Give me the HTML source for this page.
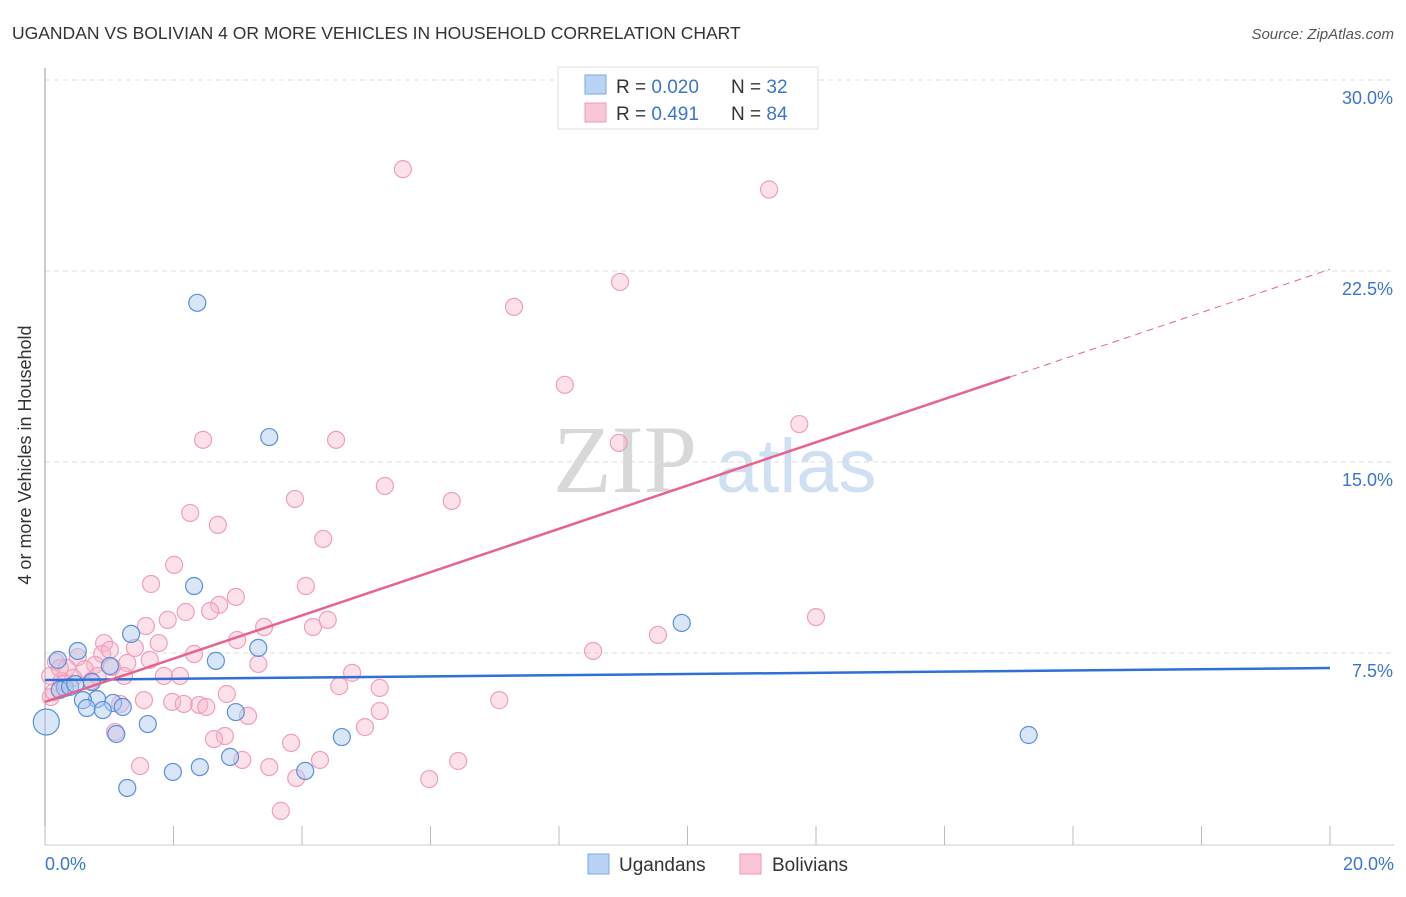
<!DOCTYPE html>
<html><head><meta charset="utf-8"><style>
body{margin:0;background:#fff;font-family:"Liberation Sans",sans-serif}
svg text{font-family:"Liberation Sans",sans-serif}
</style></head><body>
<svg width="1406" height="892" viewBox="0 0 1406 892">
<text x="12" y="39" font-size="17.5" fill="#333">UGANDAN VS BOLIVIAN 4 OR MORE VEHICLES IN HOUSEHOLD CORRELATION CHART</text>
<text x="1394" y="39" font-size="15" fill="#555" text-anchor="end" font-style="italic">Source: ZipAtlas.com</text>
<g>
<text x="553" y="492" font-size="96" fill="#d8d8d8" font-family="Liberation Serif" style="font-family:'Liberation Serif',serif">ZIP</text>
<text x="716" y="492" font-size="76" fill="#cfe0f3">atlas</text>
</g>
<g id="grid"></g><g id="axes"></g><g id="pts"></g><g id="trends"></g>
<text x="31" y="455" font-size="18" fill="#333" text-anchor="middle" transform="rotate(-90 31 455)">4 or more Vehicles in Household</text>
<g>
<rect x="558" y="67" width="260" height="62" fill="#fff" stroke="#ddd"/>
<rect x="585" y="75" width="21" height="19" fill="#b9d3f5" stroke="#7aa7e6"/>
<rect x="585" y="103" width="21" height="19" fill="#f8c6d6" stroke="#ee9ab6"/>
<text x="616" y="93" font-size="19" fill="#333">R = <tspan fill="#3a75d0">0.020</tspan></text>
<text x="731" y="93" font-size="19" fill="#333">N = <tspan fill="#3a75d0"> 32</tspan></text>
<text x="616" y="120" font-size="19" fill="#333">R = <tspan fill="#3a75d0"> 0.491</tspan></text>
<text x="731" y="120" font-size="19" fill="#333">N = <tspan fill="#3a75d0">84</tspan></text>
</g>
<g>
<rect x="588" y="854" width="21" height="20" fill="#b9d3f5" stroke="#7aa7e6"/>
<text x="619" y="871" font-size="19" fill="#333">Ugandans</text>
<rect x="740" y="854" width="21" height="20" fill="#f8c6d6" stroke="#ee9ab6"/>
<text x="772" y="871" font-size="19" fill="#333">Bolivians</text>
</g>
</svg>
<script>
const yTicks=[7.5,15,22.5,30];
const yTickLabels=["7.5%","15.0%","22.5%","30.0%"];
const xTicks=[0,2,4,6,8,10,12,14,16,18,20];
const xEndLabels=["0.0%","20.0%"];
const ugX=[2.37,3.49,2.32,9.91,1.34,3.32,0.51,0.20,2.66,1.01,0.73,0.31,0.23,0.81,0.59,1.06,1.21,0.65,0.90,2.97,1.60,0.02,1.11,4.62,15.31,2.88,2.41,1.99,4.05,1.28,0.39,0.47];
const ugY=[21.25,15.98,10.13,8.68,8.25,7.70,7.58,7.23,7.19,6.99,6.36,6.13,6.05,5.69,5.65,5.54,5.38,5.34,5.26,5.18,4.71,4.79,4.32,4.20,4.28,3.42,3.02,2.83,2.87,2.20,6.17,6.28];
const boX=[5.57,11.27,8.95,7.30,8.09,11.74,2.46,4.53,8.93,5.29,3.89,6.33,2.26,2.69,4.33,2.01,1.65,4.06,2.97,2.71,2.57,2.19,12.00,1.91,4.40,1.57,3.41,4.17,9.54,1.77,0.92,1.40,2.32,8.53,0.89,0.51,0.17,3.32,1.28,0.78,1.04,0.62,0.34,1.85,2.10,4.78,1.23,0.08,0.44,0.26,0.72,4.58,5.21,2.83,1.54,1.98,2.16,2.40,2.51,7.07,0.09,1.17,5.21,3.16,4.98,1.09,2.80,2.63,3.83,3.07,4.28,6.43,1.48,3.49,3.91,5.98,3.67,0.14,0.23,0.82,1.01,1.63,2.99,0.30];
const boY=[26.5,25.7,22.07,21.09,18.03,16.49,15.87,15.87,15.75,14.06,13.55,13.47,13.00,12.53,11.98,10.96,10.21,10.13,9.70,9.39,9.15,9.11,8.91,8.80,8.80,8.56,8.52,8.52,8.21,7.89,7.89,7.70,7.46,7.58,7.46,7.34,7.15,7.07,7.11,7.03,6.95,6.87,6.91,6.60,6.60,6.72,6.60,6.60,6.52,6.40,6.40,6.20,6.13,5.89,5.65,5.58,5.50,5.46,5.38,5.65,5.77,5.50,5.22,5.03,4.59,4.40,4.24,4.12,3.97,3.30,3.30,3.26,3.06,3.02,2.59,2.55,1.30,5.97,6.91,6.60,7.62,7.23,8.01,6.3];
const ugTrend=[6.44,6.91]; // y at x=0, x=20
const boTrend=[5.58,0.8495]; // intercept, slope
const boSolidEnd=15.02;
const X=v=>45+v/20*1285, Y=v=>844-v/7.5*191;
const NS="http://www.w3.org/2000/svg";
function mk(p,t,a){const e=document.createElementNS(NS,t);for(const k in a)e.setAttribute(k,a[k]);p.appendChild(e);return e;}
const grid=document.getElementById('grid'),axes=document.getElementById('axes'),pts=document.getElementById('pts'),tr=document.getElementById('trends');
yTicks.forEach((v,i)=>{
 const l=mk(grid,'line',{x1:45,x2:1394,y1:Y(v),y2:Y(v),stroke:'#ddd','stroke-dasharray':'5,4'});
 
 
 const t=mk(axes,'text',{x:1393,y:Y(v)+24,'font-size':18,fill:'#3a75d0','text-anchor':'end'});t.textContent=yTickLabels[i];
 
 
});
let a=mk(axes,'line',{x1:45,x2:45,y1:68,y2:845,stroke:'#999'});


a=mk(axes,'line',{x1:45,x2:1394,y1:845,y2:845,stroke:'#ccc'});


xTicks.forEach(v=>{const l=mk(axes,'line',{x1:X(v),x2:X(v),y1:826,y2:845,stroke:'#bbb'});
 
 });
[[0,'start',45],[20,'end',1394]].forEach((d,i)=>{const t=mk(axes,'text',{x:d[2],y:870,'font-size':18,fill:'#3a75d0','text-anchor':d[1]});t.textContent=xEndLabels[i];
 
 });
boX.forEach((x,i)=>{const c=mk(pts,'circle',{cx:X(x),cy:Y(boY[i]),r:8.5,fill:'rgba(248,180,202,0.4)',stroke:'#ef9fba','stroke-width':1.2});
 
 });
ugX.forEach((x,i)=>{const c=mk(pts,'circle',{cx:X(x),cy:Y(ugY[i]),r:(i==21?13:8.5),fill:'rgba(170,200,240,0.45)',stroke:'#5a8fdc','stroke-width':1.2});
 
 });
let l=mk(tr,'line',{x1:X(0),y1:Y(ugTrend[0]),x2:X(20),y2:Y(ugTrend[1]),stroke:'#2f6fd6','stroke-width':2.5});


l=mk(tr,'line',{x1:X(0),y1:Y(boTrend[0]),x2:X(boSolidEnd),y2:Y(boTrend[0]+boTrend[1]*boSolidEnd),stroke:'#e8628e','stroke-width':2.5});


l=mk(tr,'line',{x1:X(boSolidEnd),y1:Y(boTrend[0]+boTrend[1]*boSolidEnd),x2:X(20),y2:Y(boTrend[0]+boTrend[1]*20),stroke:'#e8628e','stroke-width':1,'stroke-dasharray':'7,5'});


</script>
</body></html>
